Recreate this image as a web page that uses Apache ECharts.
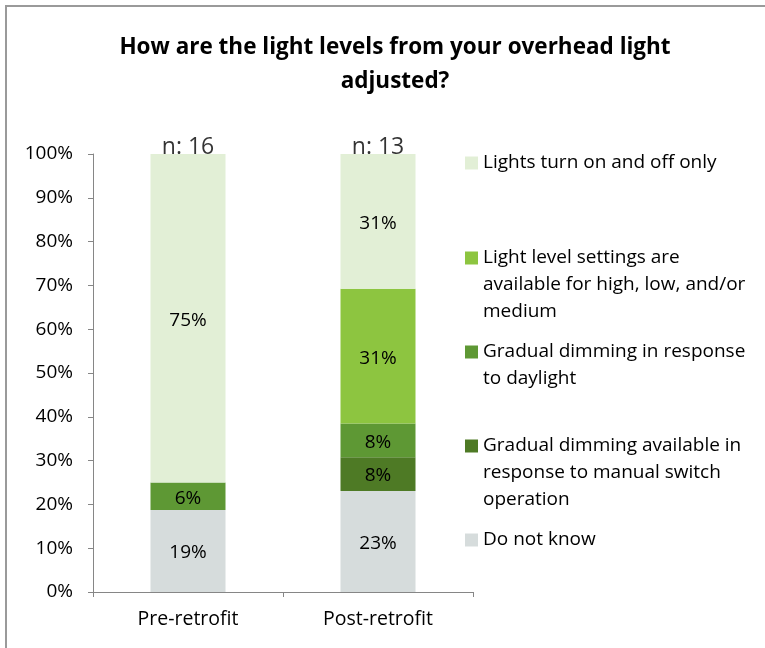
<!DOCTYPE html>
<html>
<head>
<meta charset="utf-8">
<script src="https://cdn.jsdelivr.net/npm/echarts@6/dist/echarts.min.js"></script>
<style>
html,body{margin:0;padding:0;background:#fff;}
#chart{width:765px;height:648px;}
</style>
</head>
<body>
<div id="chart"></div>
<script>
// ---- data ----
const categories = ['Pre-retrofit', 'Post-retrofit'];
const sampleSizes = [16, 13];
const seriesNames = [
  'Do not know',
  'Gradual dimming available in response to manual switch operation',
  'Gradual dimming in response to daylight',
  'Light level settings are available for high, low, and/or medium',
  'Lights turn on and off only'
];
const legendLabels = [
  'Do not know',
  'Gradual dimming available in\nresponse to manual switch\noperation',
  'Gradual dimming in response\nto daylight',
  'Light level settings are\navailable for high, low, and/or\nmedium',
  'Lights turn on and off only'
];
const doNotKnow = [18.75, 23.08];
const manualDimming = [0, 7.69];
const daylightDimming = [6.25, 7.69];
const levelSettings = [0, 30.77];
const onOffOnly = [75, 30.77];
const yTicks = [0, 10, 20, 30, 40, 50, 60, 70, 80, 90, 100];

const seriesValues = [doNotKnow, manualDimming, daylightDimming, levelSettings, onOffOnly];
const colors = ['#d6dcdc', '#4e7a25', '#5e9834', '#8dc540', '#e2efd6'];

const FONT = 'Open Sans';
const chart = echarts.init(document.getElementById('chart'), null, {renderer: 'canvas'});

const series = seriesValues.map((vals, i) => ({
  name: seriesNames[i],
  type: 'bar',
  stack: 'total',
  barWidth: 75,
  data: vals,
  itemStyle: {color: colors[i]},
  emphasis: {disabled: true},
  label: {
    show: true,
    position: 'inside',
    offset: [0, 2],
    color: '#000',
    fontFamily: FONT,
    fontSize: 19,
    formatter: p => (p.value > 0 ? Math.round(p.value) + '%' : '')
  }
}));
series.push({
  name: 'n',
  type: 'scatter',
  symbolSize: 0,
  data: categories.map(() => yTicks[yTicks.length - 1]),
  label: {
    show: true,
    position: 'inside',
    offset: [0, -7],
    color: '#000',
    fontFamily: FONT,
    fontSize: 23,
    formatter: p => 'n: ' + sampleSizes[p.dataIndex]
  },
  silent: true,
  z: 10
});

// legend: one component per item, top-to-bottom order, icon aligned with first text line
const L = 26.7;
const legendOrder = [4, 3, 2, 1, 0];
const iconCenters = [163, 258, 352, 446, 540];
const legends = legendOrder.map((si, k) => {
  const n = legendLabels[si].split('\n').length;
  const padded = '\n'.repeat(n - 1) + legendLabels[si];
  return {
    data: [seriesNames[si]],
    left: 465,
    top: iconCenters[k] - (2 * n - 1) * L / 2,
    orient: 'vertical',
    padding: 0,
    itemGap: 0,
    itemWidth: 13,
    itemHeight: 13,
    icon: 'rect',
    selectedMode: false,
    formatter: () => padded,
    textStyle: {
      fontFamily: FONT,
      fontSize: 19,
      color: '#000',
      lineHeight: L
    }
  };
});

chart.setOption({
  animation: false,
  title: {
    text: 'How are the light levels from your overhead light\nadjusted?',
    left: 390,
    top: 26,
    textAlign: 'center',
    textStyle: {fontFamily: FONT, fontSize: 22.5, fontWeight: 'bold', color: '#000', lineHeight: 34}
  },
  legend: legends,
  grid: {left: 93, top: 154, width: 380, height: 438, containLabel: false},
  xAxis: {
    type: 'category',
    data: categories,
    axisLine: {lineStyle: {color: '#868686', width: 1}},
    axisTick: {show: true, length: 5, lineStyle: {color: '#868686'}},
    axisLabel: {fontFamily: FONT, fontSize: 19.5, color: '#000', margin: 17}
  },
  yAxis: {
    type: 'value',
    min: yTicks[0],
    max: yTicks[yTicks.length - 1],
    interval: yTicks[1] - yTicks[0],
    axisLine: {show: true, lineStyle: {color: '#868686', width: 1}},
    axisTick: {show: true, length: 5, lineStyle: {color: '#868686'}},
    splitLine: {show: false},
    axisLabel: {fontFamily: FONT, fontSize: 19, color: '#000', margin: 20, formatter: '{value}%'}
  },
  graphic: [
    {type: 'line', shape: {x1: 5, y1: 6, x2: 765, y2: 6}, style: {stroke: '#9a9a9a', lineWidth: 2}, silent: true},
    {type: 'line', shape: {x1: 6, y1: 5, x2: 6, y2: 648}, style: {stroke: '#9a9a9a', lineWidth: 2}, silent: true}
  ],
  series: series
});
</script>
</body>
</html>
